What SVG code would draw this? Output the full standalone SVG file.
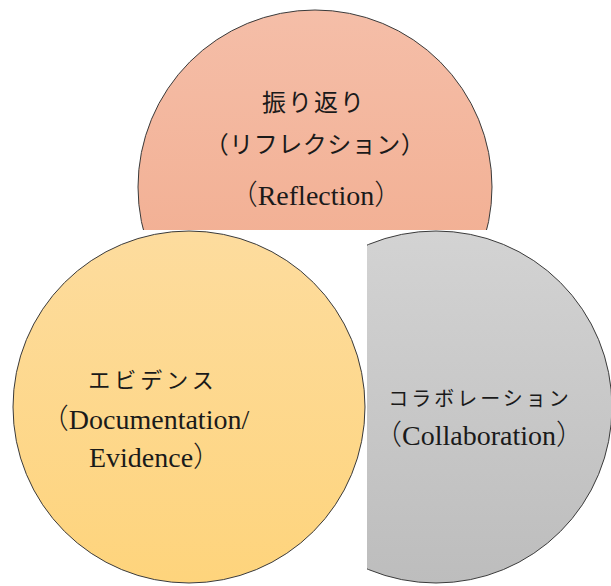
<svg xmlns="http://www.w3.org/2000/svg" width="611" height="586" viewBox="0 0 611 586">
  <defs>
    <linearGradient id="gSalmon" x1="0" y1="0" x2="0" y2="1">
      <stop offset="0" stop-color="#f5bea8"/>
      <stop offset="1" stop-color="#f1a98a"/>
    </linearGradient>
    <linearGradient id="gYellow" x1="0" y1="0" x2="0" y2="1">
      <stop offset="0" stop-color="#fddc9e"/>
      <stop offset="1" stop-color="#fed47c"/>
    </linearGradient>
    <linearGradient id="gGray" x1="0" y1="0" x2="0" y2="1">
      <stop offset="0" stop-color="#d3d3d3"/>
      <stop offset="1" stop-color="#bdbdbd"/>
    </linearGradient>
    <clipPath id="clipTop">
      <rect x="0" y="0" width="611" height="230"/>
    </clipPath>
    <clipPath id="clipRight">
      <rect x="367" y="0" width="244" height="586"/>
    </clipPath>
  </defs>
  <style>
    .ring { stroke: #3a3a3a; stroke-width: 1; }
    .jp { font-family: "Noto Sans CJK JP", sans-serif; font-size: 23px; fill: #1a1a1a; text-anchor: middle; }
    .en { font-family: "Liberation Serif", "DejaVu Serif", serif; font-size: 28px; fill: #1a1a1a; text-anchor: middle; }
    .p { font-family: "Noto Sans CJK JP", sans-serif; font-weight: 300; }
  </style>

  <rect width="611" height="586" fill="#ffffff"/>

  <g id="reflection">
    <circle class="ring" cx="315" cy="187" r="177" fill="url(#gSalmon)" clip-path="url(#clipTop)"/>
    <text class="jp" x="314" y="111" style="font-size:24px;letter-spacing:2px">振り返り</text>
    <text class="jp" x="315" y="153" style="font-size:24px;letter-spacing:0.5px">（リフレクション）</text>
    <text class="en" x="316" y="205"><tspan class="p">（</tspan>Reflection<tspan class="p">）</tspan></text>
  </g>

  <g id="evidence">
    <circle class="ring" cx="189" cy="407" r="176" fill="url(#gYellow)"/>
    <text class="jp" x="153" y="388" style="font-size:22px;letter-spacing:4px">エビデンス</text>
    <text class="en" x="145" y="429"><tspan class="p">（</tspan>Documentation/</text>
    <text class="en" x="155" y="467">Evidence<tspan class="p">）</tspan></text>
  </g>

  <g id="collaboration">
    <circle class="ring" cx="436" cy="407" r="176" fill="url(#gGray)" clip-path="url(#clipRight)"/>
    <text class="jp" x="480" y="406" style="font-size:20px;letter-spacing:3px">コラボレーション</text>
    <text class="en" x="479" y="445"><tspan class="p">（</tspan>Collaboration<tspan class="p">）</tspan></text>
  </g>

  <g id="connectors"/>
</svg>
